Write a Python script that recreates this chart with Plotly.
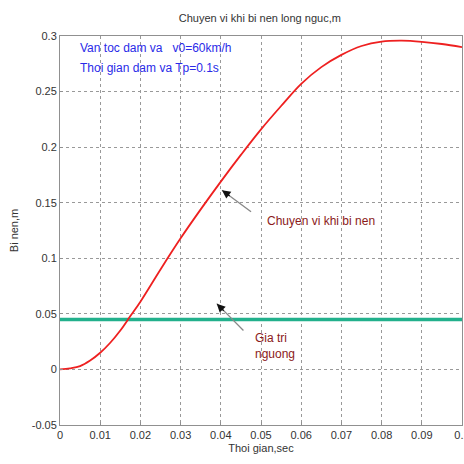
import plotly.graph_objects as go

t = [0, 0.0025, 0.005, 0.0075, 0.01, 0.0125, 0.015, 0.0175, 0.02, 0.025, 0.03, 0.035,
     0.04, 0.045, 0.05, 0.055, 0.06, 0.065, 0.07, 0.075, 0.08, 0.085, 0.09, 0.095, 0.1]
disp = [0, 0.001, 0.003, 0.008, 0.015, 0.024, 0.035, 0.048, 0.061, 0.09, 0.118, 0.144,
        0.169, 0.193, 0.216, 0.237, 0.257, 0.272, 0.283, 0.291, 0.295, 0.2958, 0.2948, 0.2928, 0.290]
threshold_t = [0, 0.1]
threshold = [0.045, 0.045]

xticks = [0, 0.01, 0.02, 0.03, 0.04, 0.05, 0.06, 0.07, 0.08, 0.09, 0.1]
xticklabels = ["0", "0.01", "0.02", "0.03", "0.04", "0.05", "0.06", "0.07", "0.08", "0.09", "0.1"]
yticks = [-0.05, 0, 0.05, 0.1, 0.15, 0.2, 0.25, 0.3]
yticklabels = ["-0.05", "0", "0.05", "0.1", "0.15", "0.2", "0.25", "0.3"]

FONT = "Liberation Sans, Arial, sans-serif"

fig = go.Figure()
fig.add_trace(go.Scatter(x=threshold_t, y=threshold, mode="lines",
                         line=dict(color="#22b08c", width=3.5), showlegend=False))
fig.add_trace(go.Scatter(x=t, y=disp, mode="lines", line_shape="spline",
                         line=dict(color="#ee2020", width=1.8), showlegend=False))

axis_common = dict(showgrid=True, gridcolor="#999999", griddash="dot", gridwidth=1,
                   showline=True, linecolor="#909090", linewidth=1, mirror=True,
                   zeroline=False, ticks="inside", ticklen=3, tickcolor="#909090",
                   ticklabeloverflow="allow", automargin=False,
                   tickfont=dict(family=FONT, size=11, color="#333333"))

fig.update_layout(
    width=464, height=464,
    margin=dict(l=60, r=2, t=36, b=39),
    paper_bgcolor="white", plot_bgcolor="white",
    title=dict(text="Chuyen vi khi bi nen long nguc,m", x=0.56, xanchor="center",
               y=1 - 18 / 464, yanchor="middle",
               font=dict(family=FONT, size=11, color="#333333")),
    xaxis=dict(range=[0, 0.1], tickvals=xticks, ticktext=xticklabels,
               title=dict(text="Thoi gian,sec", font=dict(family=FONT, size=11, color="#333333"),
                          standoff=4),
               **axis_common),
    yaxis=dict(range=[-0.05, 0.3], tickvals=yticks, ticktext=yticklabels,
               title=dict(text="Bi nen,m", font=dict(family=FONT, size=11, color="#333333"),
                          standoff=10),
               **axis_common),
)

fig.add_annotation(x=0.0045, y=0.289, xref="x", yref="y", text="Van toc dam va   v0=60km/h",
                   showarrow=False, xanchor="left", yanchor="middle",
                   font=dict(family=FONT, size=12, color="#2a2ae8"))
fig.add_annotation(x=0.0045, y=0.271, xref="x", yref="y", text="Thoi gian dam va Tp=0.1s",
                   showarrow=False, xanchor="left", yanchor="middle",
                   font=dict(family=FONT, size=12, color="#2a2ae8"))
fig.add_annotation(x=0.051, y=0.134, xref="x", yref="y", text="Chuyen vi khi bi nen",
                   showarrow=False, xanchor="left", yanchor="middle",
                   font=dict(family=FONT, size=12, color="#8b1a1a"))
fig.add_annotation(x=0.048, y=0.021, xref="x", yref="y", text="Gia tri<br>nguong",
                   showarrow=False, xanchor="left", yanchor="middle", align="left",
                   font=dict(family=FONT, size=12, color="#8b1a1a"))

# arrows: gray shaft + black head
for hx, hy, tx, ty in [(0.0403, 0.1613, 0.0479, 0.1408), (0.039, 0.0592, 0.046, 0.0336)]:
    fig.add_annotation(x=hx, y=hy, ax=tx, ay=ty, xref="x", yref="y", axref="x", ayref="y",
                       text="", showarrow=True, arrowhead=0, arrowwidth=1.3, arrowcolor="#888888")
    fig.add_annotation(x=hx, y=hy, ax=hx + (tx - hx) * 0.3, ay=hy + (ty - hy) * 0.3,
                       xref="x", yref="y", axref="x", ayref="y",
                       text="", showarrow=True, arrowhead=2, arrowsize=1.3, arrowwidth=1.3,
                       arrowcolor="#111111")

fig.write_html("out.html")
